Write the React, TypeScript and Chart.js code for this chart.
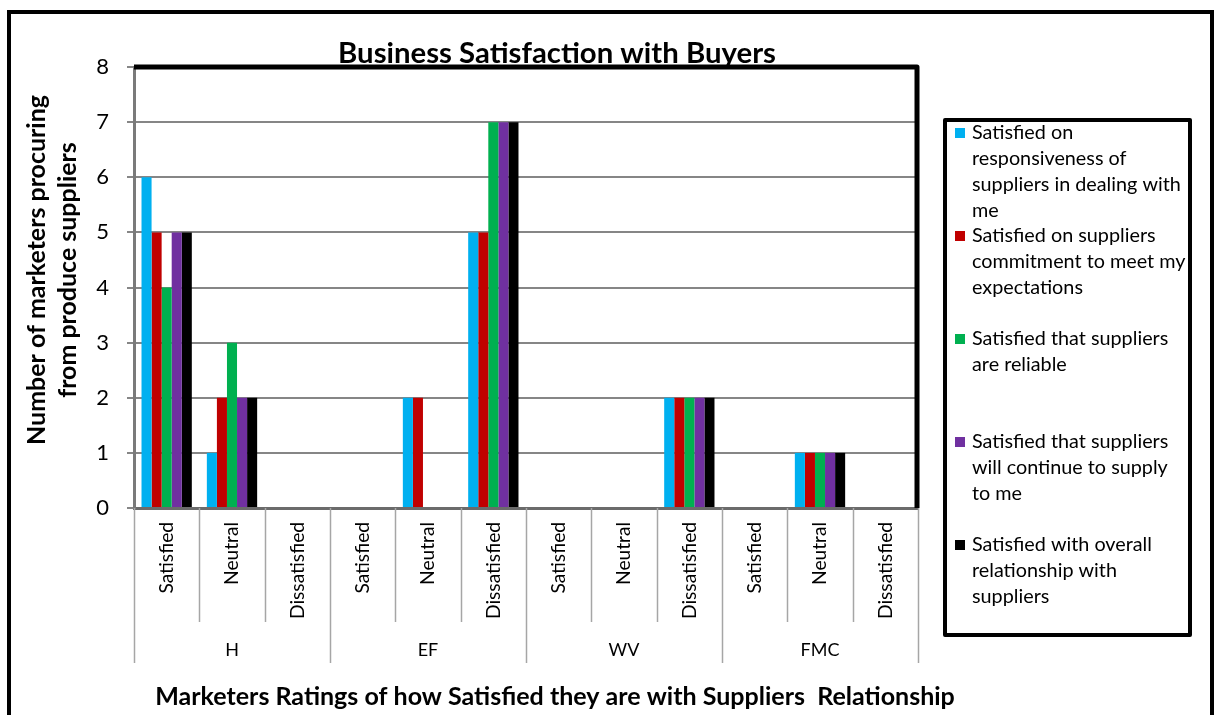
import React, { useEffect, useRef } from "react";
import { Chart, registerables } from "chart.js";

Chart.register(...registerables);

const categories = [
  "Satisfied", "Neutral", "Dissatisfied",
  "Satisfied", "Neutral", "Dissatisfied",
  "Satisfied", "Neutral", "Dissatisfied",
  "Satisfied", "Neutral", "Dissatisfied",
];
const groups = ["H", "EF", "WV", "FMC"];

const responsiveness = [6, 1, 0, 0, 2, 5, 0, 0, 2, 0, 1, 0];
const commitment = [5, 2, 0, 0, 2, 5, 0, 0, 2, 0, 1, 0];
const reliable = [4, 3, 0, 0, 0, 7, 0, 0, 2, 0, 1, 0];
const continueSupply = [5, 2, 0, 0, 0, 7, 0, 0, 2, 0, 1, 0];
const overall = [5, 2, 0, 0, 0, 7, 0, 0, 2, 0, 1, 0];

const seriesLabels: string[][] = [
  ["Satisfied on", "responsiveness of", "suppliers in dealing with", "me"],
  ["Satisfied on suppliers", "commitment to meet my", "expectations"],
  ["Satisfied that suppliers", "are reliable"],
  ["Satisfied that suppliers", "will continue to supply", "to me"],
  ["Satisfied with overall", "relationship with", "suppliers"],
];
const seriesColors = ["#00B0F0", "#C00000", "#00B050", "#7030A0", "#000000"];

const yTicks = [0, 1, 2, 3, 4, 5, 6, 7, 8];

const chartTitle = "Business Satisfaction with Buyers";
const xTitle = "Marketers Ratings of how Satisfied they are with Suppliers  Relationship";
const yTitle = ["Number of marketers procuring", "from produce suppliers"];

const FONT = "Lato";

function fitSize(ctx: CanvasRenderingContext2D, text: string, weight: string, target: number) {
  ctx.font = `${weight} 100px ${FONT}`;
  const w = ctx.measureText(text).width;
  return (100 * target) / w;
}

const decorPlugin = {
  id: "decor",
  afterDraw(chart: any) {
    const ctx: CanvasRenderingContext2D = chart.ctx;
    const { left, right, top, bottom } = chart.chartArea;
    const xs = chart.scales.x;
    ctx.save();

    // outer frame
    ctx.strokeStyle = "#000";
    ctx.lineWidth = 4;
    ctx.strokeRect(9, 12, 1203, 720);

    // plot area top & right border
    ctx.lineWidth = 5;
    ctx.lineJoin = "round";
    ctx.beginPath();
    ctx.moveTo(left, top);
    ctx.lineTo(right - 1, top);
    ctx.lineTo(right - 1, bottom);
    ctx.stroke();

    // category tick lines
    const w = xs.getPixelForValue(1) - xs.getPixelForValue(0);
    const x0 = xs.getPixelForValue(0) - w / 2;
    ctx.strokeStyle = "#a6a6a6";
    ctx.lineWidth = 1.5;
    for (let k = 0; k <= categories.length; k++) {
      const x = Math.round(x0 + k * w) + 0.5;
      const end = k % 3 === 0 ? 663 : 622;
      ctx.beginPath();
      ctx.moveTo(x, bottom);
      ctx.lineTo(x, end);
      ctx.stroke();
    }

    // category labels (rotated)
    const catSize = fitSize(ctx, "Dissatisfied", "normal", 97);
    ctx.fillStyle = "#000";
    ctx.font = `normal ${catSize}px ${FONT}`;
    ctx.textAlign = "right";
    ctx.textBaseline = "middle";
    categories.forEach((c, i) => {
      const x = xs.getPixelForValue(i);
      ctx.save();
      ctx.translate(x, 522);
      ctx.rotate(-Math.PI / 2);
      ctx.fillText(c, 0, 0);
      ctx.restore();
    });

    // group labels
    ctx.font = `normal 18px ${FONT}`;
    ctx.textAlign = "center";
    groups.forEach((g, gi) => {
      const cx = x0 + (gi * 3 + 1.5) * w;
      ctx.fillText(g, cx, 650);
    });

    // chart title
    const tSize = fitSize(ctx, chartTitle, "bold", 438);
    ctx.font = `bold ${tSize}px ${FONT}`;
    ctx.textBaseline = "alphabetic";
    ctx.fillText(chartTitle, 557, 63);

    // x title
    const xtSize = fitSize(ctx, xTitle, "bold", 800);
    ctx.font = `bold ${xtSize}px ${FONT}`;
    ctx.textBaseline = "middle";
    ctx.fillText(xTitle, 555, 697);

    // y title
    const ytSize = fitSize(ctx, yTitle[0], "bold", 350);
    ctx.font = `bold ${ytSize}px ${FONT}`;
    ctx.save();
    ctx.translate(37, 270);
    ctx.rotate(-Math.PI / 2);
    ctx.fillText(yTitle[0], 0, 0);
    ctx.fillText(yTitle[1], 0, 31);
    ctx.restore();

    // legend
    ctx.strokeStyle = "#000";
    ctx.lineWidth = 4;
    ctx.strokeRect(945, 120, 245, 515);
    const lSize = fitSize(ctx, "suppliers in dealing with", "normal", 209);
    ctx.font = `normal ${lSize}px ${FONT}`;
    ctx.textAlign = "left";
    ctx.textBaseline = "middle";
    seriesLabels.forEach((lines, i) => {
      const y0 = 133 + i * 103;
      ctx.fillStyle = seriesColors[i];
      ctx.fillRect(955, y0 - 5, 10, 10);
      ctx.fillStyle = "#000";
      lines.forEach((ln, j) => ctx.fillText(ln, 972, y0 + j * 26));
    });

    ctx.restore();
  },
};

export default function App() {
  const ref = useRef<HTMLCanvasElement>(null);
  useEffect(() => {
    const canvas = ref.current!;
    const data = [responsiveness, commitment, reliable, continueSupply, overall];
    const chart = new Chart(canvas, {
      type: "bar",
      data: {
        labels: categories,
        datasets: data.map((d, i) => ({
          label: seriesLabels[i].join(" "),
          data: d,
          backgroundColor: seriesColors[i],
          borderWidth: 0,
          categoryPercentage: 0.77,
          barPercentage: 1,
        })),
      },
      options: {
        responsive: false,
        animation: false,
        layout: { padding: { left: 0, right: 296, top: 67, bottom: 0 } },
        plugins: {
          legend: { display: false },
          title: { display: false },
          tooltip: { enabled: false },
        },
        scales: {
          x: {
            grid: { display: false },
            ticks: { display: false },
            border: { display: true, color: "#6b6b6b", width: 3 },
            afterFit: (s: any) => { s.height = 207; },
          },
          y: {
            min: 0,
            max: 8,
            afterBuildTicks: (s: any) => { s.ticks = yTicks.map((v) => ({ value: v })); },
            ticks: {
              color: "#000",
              padding: 18,
              font: { family: FONT, size: 22 },
            },
            grid: { color: "#868686", lineWidth: 2, tickLength: 7, drawTicks: true },
            border: { display: true, color: "#7a7a7a", width: 3 },
            afterFit: (s: any) => { s.width = 134; },
          },
        },
      },
      plugins: [decorPlugin],
    });
    return () => chart.destroy();
  }, []);
  return (
    <div style={{ position: "absolute", left: 0, top: 0, width: 1214, height: 715, background: "#fff" }}>
      <canvas ref={ref} width={1214} height={715} style={{ display: "block" }} />
    </div>
  );
}
